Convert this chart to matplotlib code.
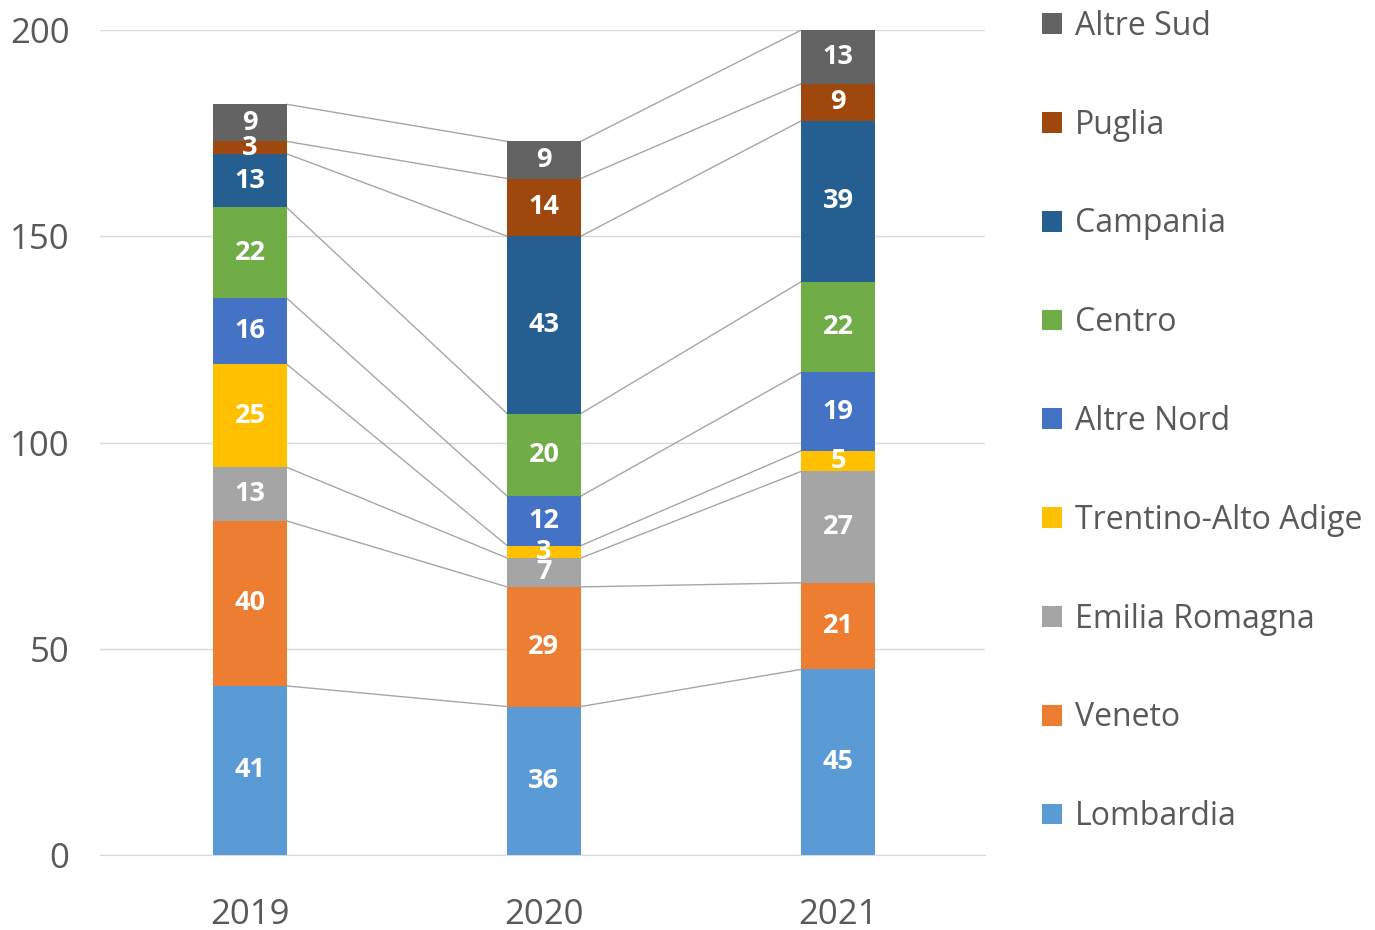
import matplotlib.pyplot as plt
import numpy as np

plt.rcParams['font.family'] = ['Open Sans', 'DejaVu Sans']

years = ['2019', '2020', '2021']
regions = ['Lombardia', 'Veneto', 'Emilia Romagna', 'Trentino-Alto Adige',
           'Altre Nord', 'Centro', 'Campania', 'Puglia', 'Altre Sud']
lombardia = [41, 36, 45]
veneto = [40, 29, 21]
emilia = [13, 7, 27]
trentino = [25, 3, 5]
altre_nord = [16, 12, 19]
centro = [22, 20, 22]
campania = [13, 43, 39]
puglia = [3, 14, 9]
altre_sud = [9, 9, 13]
colors = ['#5B9BD5', '#ED7D31', '#A5A5A5', '#FFC000', '#4472C4',
          '#70AD47', '#255E91', '#9E480E', '#636363']

series = [lombardia, veneto, emilia, trentino, altre_nord,
          centro, campania, puglia, altre_sud]

fig = plt.figure(figsize=(13.75, 9.3), dpi=100)
ax = fig.add_axes([0.0727, 0.0806, 0.6437, 0.8871])

x = np.arange(len(years))
w = 0.25
bottom = np.zeros(len(years))
handles = []
for name, vals, c in zip(regions, series, colors):
    vals = np.array(vals, dtype=float)
    b = ax.bar(x, vals, w, bottom=bottom, color=c, label=name, zorder=3)
    handles.append(b)
    for xi, v, b0 in zip(x, vals, bottom):
        ax.text(xi, b0 + v / 2, str(int(v)), ha='center', va='center',
                color='white', fontsize=19.5, fontweight='bold', zorder=4)
    top = bottom + vals
    # series lines between bars
    for i in range(len(years) - 1):
        ax.plot([x[i] + w / 2, x[i + 1] - w / 2], [top[i], top[i + 1]],
                color='#A6A6A6', lw=1, zorder=2)
    bottom = top

ax.set_xlim(-0.51, 2.5)
ax.set_ylim(0, 200)
ax.set_yticks([0, 50, 100, 150, 200])
ax.set_xticks(x)
ax.set_xticklabels(years)
ax.grid(axis='y', color='#D9D9D9', lw=1, zorder=0)
for s in ['top', 'right', 'left']:
    ax.spines[s].set_visible(False)
ax.spines['bottom'].set_color('#D9D9D9')
ax.tick_params(length=0, labelsize=25, colors='#595959')
ax.tick_params(axis='x', pad=31)
ax.tick_params(axis='y', pad=22)

leg = ax.legend(handles[::-1], regions[::-1], loc='upper left',
                bbox_to_anchor=(1.05, 1.04), frameon=False, fontsize=23,
                labelspacing=2.06, handlelength=0.62, handleheight=0.62,
                handletextpad=0.4, borderaxespad=0)
for t in leg.get_texts():
    t.set_color('#595959')

fig.savefig('out.png', dpi=100)
